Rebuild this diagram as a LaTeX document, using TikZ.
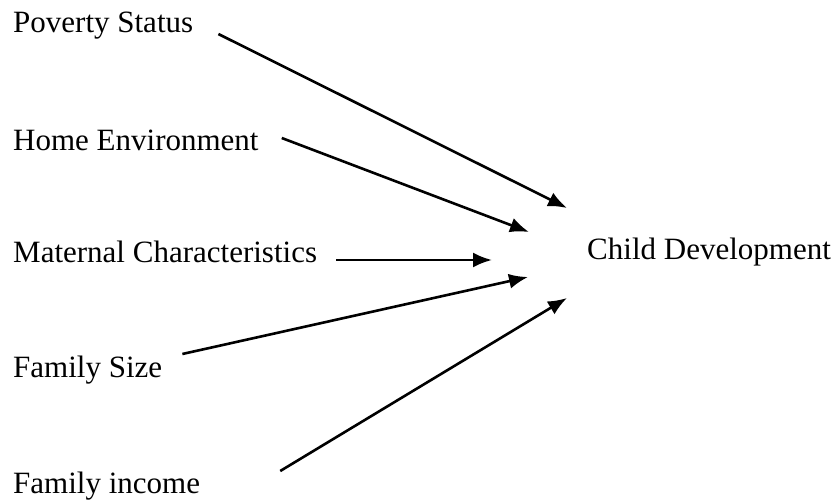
\documentclass[tikz,border=0pt]{standalone}
\usepackage{fontspec}
\setmainfont{Liberation Serif}
\usetikzlibrary{arrows.meta}

\begin{document}
\begin{tikzpicture}[
		x=1pt, y=-1pt,
		factor/.style={anchor=base west, inner sep=0pt, font=\fontsize{31}{36}\selectfont},
		arrow/.style={-{Latex[length=19pt, width=15pt]}, line width=2.6pt}
		]
		\useasboundingbox (0,0) rectangle (835,500);
		
		% Left Side: factors
		\node[factor] (pov) at (13, 33) {Poverty Status};
		\node[factor] (home) at (13, 150) {Home Environment};
		\node[factor] (mat) at (13, 262) {Maternal Characteristics};
		\node[factor] (size) at (13, 377) {Family Size};
		\node[factor] (inc) at (13, 493) {Family income};
		
		% Right Side: outcome
		\node[factor] (child) at (587, 259) {Child Development};
		
		% Arrow tips
		\coordinate (t1) at (567, 208);
		\coordinate (t2) at (529, 232);
		\coordinate (t3) at (492, 260);
		\coordinate (t4) at (528, 277);
		\coordinate (t5) at (567, 298);
		
		\draw[arrow] ([xshift=25pt, yshift=-1pt]pov.base east) -- (t1);
		\draw[arrow] ([xshift=23pt, yshift=12pt]home.base east) -- (t2);
		\draw[arrow] ([xshift=19pt, yshift=2pt]mat.base east) -- (t3);
		\draw[arrow] ([xshift=20pt, yshift=23pt]size.base east) -- (t4);
		\draw[arrow] ([xshift=80pt, yshift=22pt]inc.base east) -- (t5);
		
	\end{tikzpicture}
\end{document}
